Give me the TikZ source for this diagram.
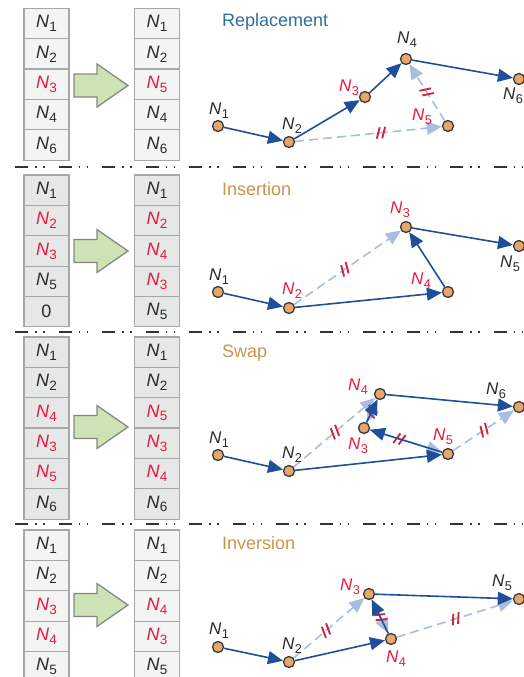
\documentclass[tikz,border=0pt]{standalone}
\usepackage{fontspec}
\setmainfont{Liberation Sans}
\usetikzlibrary{arrows.meta,decorations.markings}
\definecolor{cellA}{HTML}{F3F5F5}
\definecolor{cellB}{HTML}{E6E7E7}
\definecolor{cellborder}{HTML}{A8A8A8}
\definecolor{txt}{HTML}{2A2A2A}
\definecolor{redt}{HTML}{E8193C}
\definecolor{arrowfill}{HTML}{CDE2B5}
\definecolor{arrowdraw}{HTML}{878787}
\definecolor{edgeS}{HTML}{1F4E9B}
\definecolor{edgeD}{HTML}{A9BDE3}
\definecolor{nodefill}{HTML}{E9A66B}
\definecolor{nodedraw}{HTML}{3A3A3A}
\definecolor{markc}{HTML}{D0283A}
\definecolor{titleA}{HTML}{2F6E9A}
\definecolor{titleB}{HTML}{C8944E}
\definecolor{sepc}{HTML}{333333}
\newcommand\Nn[1]{\textit{N}\kern0.3pt\raisebox{-0.22em}{\scalebox{0.75}{#1}}}
\newcommand\Rn[1]{\textcolor{redt}{\Nn{#1}}}
\pgfdeclarelayer{bg}
\pgfsetlayers{bg,main}
\begin{document}
\begin{tikzpicture}[x=1pt,y=-1pt,
  cellL/.style={draw=cellborder, fill=cellA, line width=1.1pt, minimum width=45pt, minimum height=30.4pt, inner sep=0pt, text=txt, font=\fontsize{18}{18}\selectfont},
  cellD/.style={cellL, fill=cellB},
  gn/.style={circle, draw=nodedraw, fill=nodefill, line width=1.3pt, minimum size=11pt, inner sep=0pt},
  lbl/.style={text=txt, font=\fontsize{17}{17}\selectfont, inner sep=0pt},
  rlbl/.style={lbl, text=redt},
  newE/.style={draw=edgeS, line width=1.6pt, -{Triangle[length=15pt,width=13pt]}},
  oldE/.style={draw=edgeD, line width=1.6pt, dash pattern=on 9pt off 5pt, -{Triangle[length=15pt,width=13pt]}},
  brk/.style={postaction={decorate, decoration={markings, mark=at position #1 with {\draw[-, solid, draw=markc, line width=1.9pt] (-4pt,-5.5pt) -- (0pt,5.5pt) (1.5pt,-5.5pt) -- (5.5pt,5.5pt);}}}},
  ttl/.style={anchor=west, font=\fontsize{18}{18}\selectfont, inner sep=0pt},
  sepline/.style={draw=sepc, line width=1.6pt, dash pattern=on 13pt off 7pt on 1.5pt off 6.5pt on 1.5pt off 14pt},
  bigarrow/.style={fill=arrowfill, draw=arrowdraw, line width=1.3pt, line join=miter}
]
\useasboundingbox (0,0) rectangle (524,677);
\clip (0,0) rectangle (524,677);

% ---------- tables ----------
\foreach \t [count=\i] in {\Nn1,\Nn2,\Rn3,\Nn4,\Nn6}
  \node[cellL] (p1a\i) at (46.5,{23.5+30.35*(\i-1)}) {\t};
\foreach \t [count=\i] in {\Nn1,\Nn2,\Rn5,\Nn4,\Nn6}
  \node[cellL] (p1b\i) at (157,{23.5+30.35*(\i-1)}) {\t};

\foreach \t [count=\i] in {\Nn1,\Rn2,\Rn3,\Nn5,0}
  \node[cellD] (p2a\i) at (46.5,{190.2+30.35*(\i-1)}) {\t};
\foreach \t [count=\i] in {\Nn1,\Rn2,\Rn4,\Rn3,\Nn5}
  \node[cellD] (p2b\i) at (157,{190.2+30.35*(\i-1)}) {\t};

\foreach \t [count=\i] in {\Nn1,\Nn2,\Rn4,\Rn3,\Rn5,\Nn6}
  \node[cellD] (p3a\i) at (46.5,{352.2+30.33*(\i-1)}) {\t};
\foreach \t [count=\i] in {\Nn1,\Nn2,\Rn5,\Rn3,\Rn4,\Nn6}
  \node[cellD] (p3b\i) at (157,{352.2+30.33*(\i-1)}) {\t};

\foreach \t [count=\i] in {\Nn1,\Nn2,\Rn3,\Rn4,\Nn5}
  \node[cellL] (p4a\i) at (46.5,{545.2+30.35*(\i-1)}) {\t};
\foreach \t [count=\i] in {\Nn1,\Nn2,\Rn4,\Rn3,\Nn5}
  \node[cellL] (p4b\i) at (157,{545.2+30.35*(\i-1)}) {\t};

% ---------- big arrows ----------
\foreach \ty in {85.5,251,427,605}
  \draw[bigarrow] (74,{\ty-11.5}) -- (97,{\ty-11.5}) -- (97,{\ty-21.5}) -- (128,\ty)
     -- (97,{\ty+21.5}) -- (97,{\ty+11.5}) -- (74,{\ty+11.5}) -- cycle;

% ---------- separators ----------
\coordinate (s1a) at (15,167);  \coordinate (s1b) at (524,167);
\coordinate (s2a) at (15,332);  \coordinate (s2b) at (524,332);
\coordinate (s3a) at (15,524);  \coordinate (s3b) at (524,524);
\draw[sepline] (s1a) -- (s1b);
\draw[sepline] (s2a) -- (s2b);
\draw[sepline] (s3a) -- (s3b);

% ---------- titles ----------
\node[ttl, text=titleA] (t1) at (222,22) {Replacement};
\node[ttl, text=titleB] (t2) at (222,189) {Insertion};
\node[ttl, text=titleB] (t3) at (222,353) {Swap};
\node[ttl, text=titleB] (t4) at (222,543) {Inversion};

% ---------- panel 1 graph ----------
\node[gn] (p1n1) at (218,126) {};
\node[gn] (p1n2) at (289,142) {};
\node[gn] (p1n3) at (365,97) {};
\node[gn] (p1n4) at (406,59) {};
\node[gn] (p1n5) at (448,126) {};
\node[gn] (p1n6) at (519,79) {};
\node[lbl]  (l1n1) at (219,111) {\Nn1};
\node[lbl]  (l1n2) at (292,126) {\Nn2};
\node[rlbl] (l1n3) at (349,88) {\Nn3};
\node[lbl]  (l1n4) at (407,40) {\Nn4};
\node[rlbl] (l1n5) at (422,117) {\Nn5};
\node[lbl]  (l1n6) at (513,96) {\Nn6};

% ---------- panel 2 graph ----------
\node[gn] (p2n1) at (218,292) {};
\node[gn] (p2n2) at (289,308) {};
\node[gn] (p2n3) at (406,227) {};
\node[gn] (p2n4) at (448,292) {};
\node[gn] (p2n5) at (519,246) {};
\node[lbl]  (l2n1) at (219,277) {\Nn1};
\node[rlbl] (l2n2) at (292,291) {\Nn2};
\node[rlbl] (l2n3) at (400,210) {\Nn3};
\node[rlbl] (l2n4) at (421,281) {\Nn4};
\node[lbl]  (l2n5) at (510,264) {\Nn5};

% ---------- panel 3 graph ----------
\node[gn] (p3n1) at (218,455) {};
\node[gn] (p3n2) at (289,471) {};
\node[gn] (p3n4) at (380,394) {};
\node[gn] (p3n3) at (364,428) {};
\node[gn] (p3n5) at (448,454) {};
\node[gn] (p3n6) at (519,407) {};
\node[lbl]  (l3n1) at (219,440) {\Nn1};
\node[lbl]  (l3n2) at (292,455) {\Nn2};
\node[rlbl] (l3n4) at (358,387) {\Nn4};
\node[rlbl] (l3n3) at (358,446) {\Nn3};
\node[rlbl] (l3n5) at (443,437) {\Nn5};
\node[lbl]  (l3n6) at (496,391) {\Nn6};

% ---------- panel 4 graph ----------
\node[gn] (p4n1) at (218,647) {};
\node[gn] (p4n2) at (289,662) {};
\node[gn] (p4n3) at (369,594) {};
\node[gn] (p4n4) at (391,639) {};
\node[gn] (p4n5) at (519,599) {};
\node[lbl]  (l4n1) at (219,631) {\Nn1};
\node[lbl]  (l4n2) at (292,646) {\Nn2};
\node[rlbl] (l4n3) at (350,587) {\Nn3};
\node[rlbl] (l4n4) at (396,659) {\Nn4};
\node[lbl]  (l4n5) at (502,583) {\Nn5};

% ---------- edges ----------
\begin{pgfonlayer}{bg}
  % panel 1
  \draw[oldE, brk=0.58] (p1n2) -- (p1n5);
  \draw[oldE, brk=0.5] (p1n5) -- (p1n4);
  \draw[newE] (p1n1) -- (p1n2);
  \draw[newE] (p1n2) -- (p1n3);
  \draw[newE] (p1n3) -- (p1n4);
  \draw[newE] (p1n4) -- (p1n6);
  % panel 2
  \draw[oldE, brk=0.47] (p2n2) -- (p2n3);
  \draw[newE] (p2n1) -- (p2n2);
  \draw[newE] (p2n2) -- (p2n4);
  \draw[newE] (p2n4) -- (p2n3);
  \draw[newE] (p2n3) -- (p2n5);
  % panel 3
  \draw[oldE, brk=0.5] (p3n2) -- (p3n4);
  \draw[oldE, brk=0.5] (p3n4) -- (p3n3);
  \draw[oldE, brk=0.4] (p3n3) -- (p3n5);
  \draw[oldE, brk=0.5] (p3n5) -- (p3n6);
  \draw[newE] (p3n1) -- (p3n2);
  \draw[newE] (p3n2) -- (p3n5);
  \draw[newE] (p3n5) -- (p3n3);
  \draw[newE] (p3n3) -- (p3n4);
  \draw[newE] (p3n4) -- (p3n6);
  % panel 4
  \draw[oldE, brk=0.45] (p4n2) -- (p4n3);
  \draw[oldE, brk=0.5] (p4n3) -- (p4n4);
  \draw[oldE, brk=0.5] (p4n4) -- (p4n5);
  \draw[newE] (p4n1) -- (p4n2);
  \draw[newE] (p4n2) -- (p4n4);
  \draw[newE] (p4n4) -- (p4n3);
  \draw[newE] (p4n3) -- (p4n5);
\end{pgfonlayer}
\end{tikzpicture}
\end{document}
